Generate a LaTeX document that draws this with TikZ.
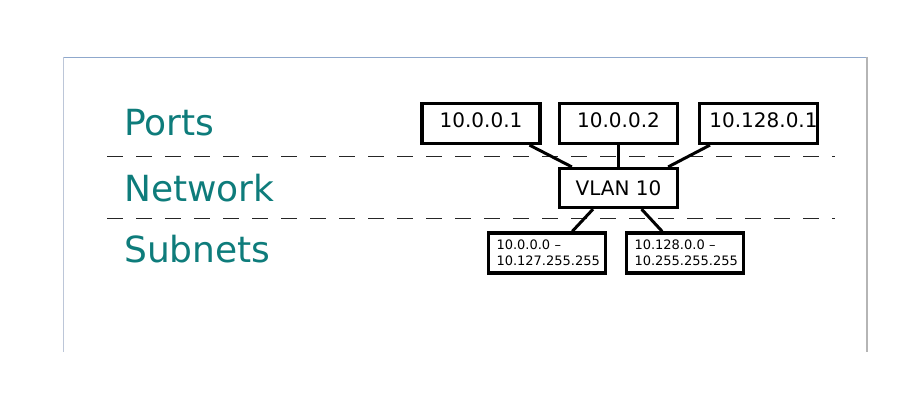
\documentclass[tikz,border=0pt]{standalone}
\usepackage{fontspec}
\setmainfont{DejaVu Sans}
\usetikzlibrary{calc,positioning}
\definecolor{Layer}{HTML}{0E7C7B}
\definecolor{FrameTop}{HTML}{8FA8CC}
\definecolor{FrameSide}{HTML}{BCC6D8}
\definecolor{FrameShade}{HTML}{B5B5B5}
\tikzset{
  layer/.style={
    anchor=base west, inner sep=0pt, text=Layer,
    font=\fontsize{36}{40}\selectfont
  },
  vlanbox/.style={
    draw=black, line width=3.2pt, fill=white, inner xsep=0pt,
    minimum width=118pt, minimum height=40pt,
    font=\fontsize{20}{24}\selectfont
  },
  port/.style={vlanbox, text height=14pt, text depth=6pt},
  subnet/.style={
    draw=black, line width=3.2pt, fill=white, align=left,
    text width=101pt, inner xsep=8pt, minimum height=40pt,
    font=\fontsize{13}{16}\selectfont
  },
  link/.style={line width=3pt, draw=black},
  divider/.style={line width=1pt, draw=black!85, dash pattern=on 15.5pt off 13.5pt}
}

\begin{document}
\begin{tikzpicture}[x=1pt,y=-1pt]
  \useasboundingbox (0,0) rectangle (913,420);
  % frame
  \draw[FrameTop,line width=1.8pt] (63,57.5) -- (866,57.5);
  \draw[FrameSide,line width=1.5pt] (63.5,57) -- (63.5,352);
  \draw[FrameShade,line width=2.8pt] (867,57) -- (867,352);
  % layers
  \node[layer] (ports) at (124,135.7) {Ports};
  \node[layer] (network) at (124,201.7) {Network};
  \node[layer] (subnets) at (124,262.7) {Subnets};
  \draw[divider] (107,156) -- (835,156);
  \draw[divider] (107,218) -- (835,218);
  % boxes
  \node[port] (p1) at (481,123.5) {10.0.0.1};
  \node[port] (p2) at (618.5,123.5) {10.0.0.2};
  \node[port] (p3) at (758.5,123.5) {\hspace*{10pt}10.128.0.1};
  \node[vlanbox,minimum height=39pt] (vlan) at (618.5,188) {VLAN 10};
  \node[subnet] (s1) at (547,253) {10.0.0.0 --\\10.127.255.255};
  \node[subnet] (s2) at (685,253) {10.128.0.0 --\\10.255.255.255};
  % links
  \draw[link] ($(p1.south west)!0.9!(p1.south east)$) -- ($(vlan.north west)!0.115!(vlan.north east)$);
  \draw[link] (p2.south) -- (vlan.north);
  \draw[link] ($(p3.south west)!0.1!(p3.south east)$) -- ($(vlan.north west)!0.91!(vlan.north east)$);
  \draw[link] ($(vlan.south west)!0.29!(vlan.south east)$) -- ($(s1.north west)!0.71!(s1.north east)$);
  \draw[link] ($(vlan.south west)!0.69!(vlan.south east)$) -- ($(s2.north west)!0.31!(s2.north east)$);
\end{tikzpicture}
\end{document}
